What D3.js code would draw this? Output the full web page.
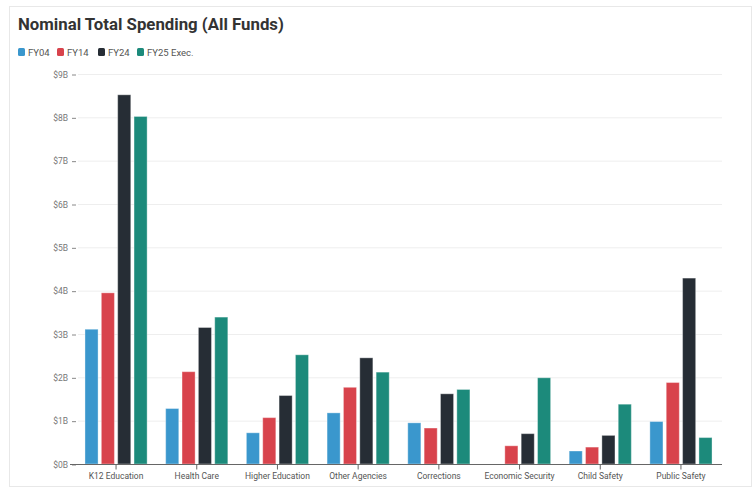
<!DOCTYPE html>
<html>
<head>
<meta charset="utf-8">
<script src="https://cdn.jsdelivr.net/npm/d3@7"></script>
<style>
  body { margin: 0; background: #fff; font-family: Roboto, "Noto Sans", sans-serif; }
</style>
</head>
<body>
<div id="chart"></div>
<script>
// data ($ billions)
var categories = ["K12 Education", "Health Care", "Higher Education", "Other Agencies",
  "Corrections", "Economic Security", "Child Safety", "Public Safety"];
var seriesNames = ["FY04", "FY14", "FY24", "FY25 Exec."];
var fy04 = [3.11, 1.28, 0.72, 1.18, 0.95, 0, 0.30, 0.98];
var fy14 = [3.95, 2.13, 1.07, 1.77, 0.83, 0.42, 0.39, 1.88];
var fy24 = [8.52, 3.15, 1.58, 2.45, 1.62, 0.70, 0.66, 4.29];
var fy25 = [8.02, 3.39, 2.52, 2.12, 1.72, 1.99, 1.38, 0.61];
var yTicks = [0, 1, 2, 3, 4, 5, 6, 7, 8, 9];
var colors = ["#3a97cd", "#d8434c", "#262d35", "#1c8a7b"];

var seriesValues = [fy04, fy14, fy24, fy25];

var svgWidth = 754;
var svgHeight = 489;

var svg = d3.select("#chart")
  .append("svg")
  .attr("width", svgWidth)
  .attr("height", svgHeight);

// card border
svg.append("rect")
  .attr("x", 9.5)
  .attr("y", 6.5)
  .attr("width", 742)
  .attr("height", 480)
  .attr("fill", "#fff")
  .attr("stroke", "#e8e8e8");

// title
svg.append("text")
  .attr("x", 18)
  .attr("y", 30)
  .attr("font-size", 16.8)
  .attr("font-weight", 700)
  .attr("fill", "#333")
  .text("Nominal Total Spending (All Funds)");

// legend
var legendX = [18, 57, 98, 137];
var legend = svg.append("g");
seriesNames.forEach(function(name, i) {
  legend.append("rect")
    .attr("x", legendX[i])
    .attr("y", 48)
    .attr("width", 7)
    .attr("height", 8)
    .attr("rx", 1.5)
    .attr("fill", colors[i]);
  legend.append("text")
    .attr("x", legendX[i] + 10)
    .attr("y", 55.5)
    .attr("font-size", 9.5)
    .attr("fill", "#555")
    .text(name);
});

// scales
var x0 = d3.scaleBand()
  .domain(categories)
  .range([75.7, 721.3])
  .paddingInner(0.23)
  .paddingOuter(0.115);

var x1 = d3.scaleBand()
  .domain(seriesNames)
  .range([0, x0.bandwidth()])
  .paddingInner(0.2);

var y = d3.scaleLinear()
  .domain([0, 9])
  .range([464, 74]);

// gridlines
svg.append("g")
  .selectAll("line")
  .data(yTicks.filter(function(d) { return d > 0; }))
  .enter()
  .append("line")
  .attr("x1", 78)
  .attr("x2", 722)
  .attr("y1", function(d) { return y(d) + 0.5; })
  .attr("y2", function(d) { return y(d) + 0.5; })
  .attr("stroke", "#eeeeee");

// y axis
var leftAxis = d3.axisLeft(y)
  .tickValues(yTicks)
  .tickSize(4)
  .tickPadding(4)
  .tickFormat(function(d) { return "$" + d + "B"; });

var yAxis = svg.append("g")
  .attr("transform", "translate(76, 0.5)")
  .call(leftAxis);
yAxis.select(".domain").remove();
yAxis.selectAll(".tick line").attr("stroke", "#888");
yAxis.selectAll(".tick text")
  .attr("font-size", 8.5)
  .attr("font-family", "Roboto, sans-serif")
  .attr("fill", "#777");

// bars
var groups = svg.append("g")
  .selectAll("g")
  .data(categories)
  .enter()
  .append("g")
  .attr("transform", function(d) { return "translate(" + x0(d) + ",0)"; });

groups.selectAll("rect")
  .data(function(d, ci) {
    return seriesNames.map(function(s, si) {
      return { series: s, value: seriesValues[si][ci], color: colors[si] };
    });
  })
  .enter()
  .append("rect")
  .filter(function(d) { return d.value > 0; })
  .attr("x", function(d) { return x1(d.series); })
  .attr("y", function(d) { return y(d.value); })
  .attr("width", x1.bandwidth())
  .attr("height", function(d) { return y(0) - y(d.value); })
  .attr("fill", function(d) { return d.color; })
  .attr("stroke", "rgba(255,255,255,0.35)")
  .attr("stroke-width", 1);

// x axis
var bottomAxis = d3.axisBottom(x0)
  .tickSize(5)
  .tickPadding(3);

var xAxis = svg.append("g")
  .attr("transform", "translate(0, 464.5)")
  .call(bottomAxis);
xAxis.select(".domain").remove();
xAxis.selectAll(".tick line").attr("stroke", "#666");
xAxis.selectAll(".tick text")
  .attr("font-size", 8.5)
  .attr("font-family", "Roboto, sans-serif")
  .attr("fill", "#555");

// baseline
svg.append("line")
  .attr("x1", 70)
  .attr("x2", 722)
  .attr("y1", 464.5)
  .attr("y2", 464.5)
  .attr("stroke", "#666");
</script>
</body>
</html>
